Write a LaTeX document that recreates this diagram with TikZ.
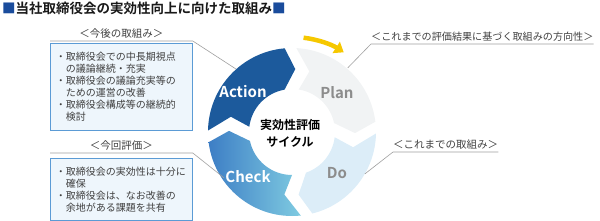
\documentclass[tikz,border=0pt]{standalone}
\usepackage{fontspec}
\setmainfont{Noto Sans CJK JP}[BoldFont={Noto Sans CJK JP Bold}]
\usepackage{tikz}
\usetikzlibrary{positioning,arrows.meta,calc}
\definecolor{actblue}{HTML}{1C5A9C}
\definecolor{chkleft}{HTML}{3D7EC5}
\definecolor{chkright}{HTML}{7FCBE1}
\definecolor{plangray}{HTML}{F1F3F4}
\definecolor{doblue}{HTML}{DCEDF8}
\definecolor{notefill}{HTML}{EEF6FC}
\definecolor{noteline}{HTML}{5B9BD5}
\definecolor{titleblue}{HTML}{1A4C9C}
\definecolor{cycyellow}{HTML}{F6C800}
\definecolor{txtgray}{HTML}{404040}
\tikzset{
  note/.style={draw=noteline, fill=notefill, line width=0.8pt, align=left, text=txtgray,
    font=\fontsize{10}{12}\selectfont, text width=131pt, inner xsep=5.5pt, anchor=north west},
  lbl/.style={font=\fontsize{10.5}{12}\selectfont, text=txtgray, inner xsep=0pt, inner ysep=2.5pt},
  leader/.style={draw=gray!75, line width=0.6pt},
  seglbl/.style={font=\fontsize{15}{15}\selectfont\bfseries},
  turn/.style={draw=cycyellow, line width=4.5pt, -{Triangle[length=9pt, width=13pt]}},
}

\begin{document}
\begin{tikzpicture}[x=1pt, y=1pt]
  \useasboundingbox (0,0) rectangle (600,221);
  % title
  \node[anchor=west, inner sep=0pt, font=\fontsize{13.5}{14}\selectfont\bfseries, text=black!90] (title) at (2,213)
    {{\color{titleblue}■}当社取締役会の実効性向上に向けた取組み{\color{titleblue}■}};
  % cycle
  \begin{scope}[shift={(292,89)}]
    \fill[plangray] (87:84) arc[start angle=87, end angle=7, radius=84pt] -- (-1:63) -- (12:43)
      arc[start angle=12, end angle=81, radius=43pt] -- (74:63) -- cycle;
    \fill[doblue] (-1:84) arc[start angle=-1, end angle=-76, radius=84pt] -- (-84:63) -- (-71:43)
      arc[start angle=-71, end angle=-7, radius=43pt] -- (-14:63) -- cycle;
    \shade[left color=chkleft, right color=chkright] (-84:84) arc[start angle=-84, end angle=-173, radius=84pt] -- (-181:63) -- (-168:43)
      arc[start angle=-168, end angle=-90, radius=43pt] -- (-97:63) -- cycle;
    \fill[actblue] (179:84) arc[start angle=179, end angle=95, radius=84pt] -- (87:63) -- (100:43)
      arc[start angle=100, end angle=173, radius=43pt] -- (166:63) -- cycle;
    \draw[turn] (83:95) arc[start angle=83, end angle=57, radius=95pt];
    \coordinate (actpt) at (131.6:84);
    \coordinate (chkpt) at (214:82);
    \coordinate (planpt) at (49:85);
    \coordinate (dopt) at (-30:84);
  \end{scope}
  \node[seglbl, text=white] (act) at (243,129) {Action};
  \node[seglbl, text=black!45] (plan) at (337,128) {Plan};
  \node[seglbl, text=white] (chk) at (248,44) {Check};
  \node[seglbl, text=black!45] (do) at (337,48) {Do};
  \node[align=center, font=\fontsize{12}{17}\selectfont\bfseries] (cyc) at (290,88) {実効性評価\\サイクル};
  % left notes
  \node[note, minimum height=87pt] (next) at (50,178)
    {・取締役会での中長期視点\\\hspace*{1em}の議論継続・充実\\・取締役会の議論充実等の\\\hspace*{1em}ための運営の改善\\・取締役会構成等の継続的\\\hspace*{1em}検討};
  \node[lbl, above=2pt of next] (nextlbl) {＜今後の取組み＞};
  \node[note, minimum height=62pt] (eval) at (50,63)
    {・取締役会の実効性は十分に\\\hspace*{1em}確保\\・取締役会は、なお改善の\\\hspace*{1em}余地がある課題を共有};
  \node[lbl, above=5pt of eval] (evallbl) {＜今回評価＞};
  % right labels
  \node[lbl, anchor=south west, font=\fontsize{10.1}{12}\selectfont] (dirlbl) at (371,177) {＜これまでの評価結果に基づく取組みの方向性＞};
  \node[lbl, anchor=south west] (pastlbl) at (393,69) {＜これまでの取組み＞};
  % leaders
  \draw[leader] (nextlbl.south -| next.west) -- (nextlbl.south -| next.east) -- (actpt);
  \draw[leader] (evallbl.south -| eval.west) -- (evallbl.south -| eval.east) -- (chkpt);
  \draw[leader] (dirlbl.south east) -- (dirlbl.south west) -- (planpt);
  \draw[leader] (pastlbl.south east) -- (pastlbl.south west) -- (dopt);
\end{tikzpicture}
\end{document}
